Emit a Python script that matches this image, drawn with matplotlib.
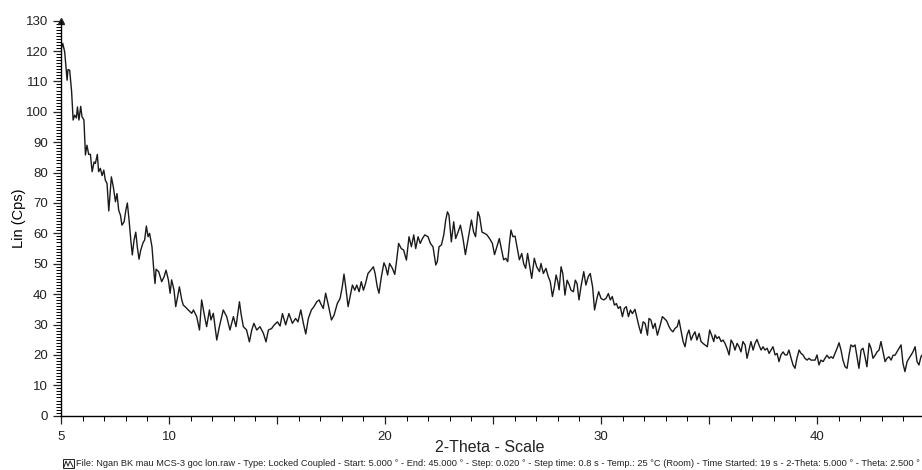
import numpy as np
import matplotlib
matplotlib.use("Agg")
import matplotlib.pyplot as plt
from matplotlib.ticker import MultipleLocator, FixedLocator
from matplotlib.patches import Rectangle

plt.rcParams['font.family'] = ['Liberation Sans', 'DejaVu Sans']

# 2-theta positions (deg) and intensities
two_theta = [
    5.00, 5.08, 5.17, 5.28, 5.32, 5.40, 5.49, 5.56, 5.63, 5.71, 5.76, 5.83, 5.91, 5.97,
    6.06, 6.13, 6.20, 6.28, 6.36, 6.44, 6.53, 6.59, 6.68, 6.74, 6.82, 6.90, 6.98,
    7.05, 7.13, 7.21, 7.33, 7.42, 7.52, 7.59, 7.67, 7.75, 7.82, 7.92,
    8.00, 8.07, 8.15, 8.23, 8.30, 8.38, 8.46, 8.53, 8.61, 8.69, 8.80, 8.87, 8.95,
    9.03, 9.10, 9.21, 9.31, 9.35, 9.40, 9.52, 9.66, 9.77, 9.86, 9.97,
    10.05, 10.12, 10.23, 10.31, 10.40, 10.48, 10.59, 10.66, 10.74, 10.89,
    11.05, 11.13, 11.28, 11.41, 11.51, 11.62, 11.74, 11.87, 11.94,
    12.05, 12.21, 12.33, 12.44, 12.51, 12.67, 12.82, 12.98,
    13.10, 13.26, 13.33, 13.44, 13.59, 13.72, 13.83, 13.93,
    14.06, 14.21, 14.37, 14.49, 14.60, 14.75, 14.86,
    15.02, 15.14, 15.25, 15.40, 15.55, 15.71, 15.86, 15.97,
    16.10, 16.22, 16.33, 16.45, 16.59, 16.71, 16.84, 16.95,
    17.02, 17.14, 17.25, 17.36, 17.52, 17.64, 17.79, 17.92,
    18.02, 18.10, 18.18, 18.29, 18.38, 18.49, 18.60, 18.69, 18.80, 18.90,
    19.00, 19.10, 19.21, 19.34, 19.46, 19.54, 19.64, 19.72, 19.83, 19.95,
    20.03, 20.12, 20.21, 20.34, 20.45, 20.52, 20.63, 20.75, 20.86, 20.99,
    21.11, 21.22, 21.33, 21.42, 21.53, 21.63, 21.73, 21.84, 21.99,
    22.10, 22.22, 22.35, 22.42, 22.50, 22.61, 22.72, 22.81, 22.89, 22.96,
    23.07, 23.18, 23.27, 23.38, 23.49, 23.61, 23.72, 23.84,
    24.00, 24.10, 24.19, 24.30, 24.38, 24.49, 24.61, 24.72, 24.84, 24.97,
    25.07, 25.18, 25.29, 25.40, 25.49, 25.59, 25.68, 25.76, 25.83, 25.92,
    26.02, 26.11, 26.22, 26.33, 26.42, 26.51, 26.60, 26.70, 26.79, 26.91,
    27.02, 27.15, 27.22, 27.33, 27.45, 27.56, 27.65, 27.75, 27.84, 27.92,
    28.00, 28.06, 28.15, 28.23, 28.33, 28.43, 28.53, 28.61, 28.72, 28.81, 28.89, 28.98,
    29.07, 29.20, 29.30, 29.41, 29.50, 29.61, 29.70, 29.81, 29.89,
    30.00, 30.12, 30.23, 30.34, 30.43, 30.52, 30.62, 30.71, 30.80, 30.89, 30.99,
    31.08, 31.17, 31.27, 31.36, 31.45, 31.57, 31.67, 31.76, 31.85, 31.95,
    32.04, 32.15, 32.22, 32.31, 32.41, 32.50, 32.61, 32.72, 32.84, 32.93,
    33.04, 33.15, 33.24, 33.33, 33.42, 33.53, 33.61, 33.70, 33.80, 33.89, 33.98,
    34.07, 34.17, 34.26, 34.35, 34.44, 34.54, 34.63, 34.72, 34.81, 34.92,
    35.03, 35.12, 35.22, 35.28, 35.37, 35.46, 35.56, 35.65, 35.74, 35.83, 35.93,
    36.02, 36.11, 36.20, 36.30, 36.39, 36.48, 36.57, 36.67, 36.76, 36.85, 36.94,
    37.04, 37.13, 37.22, 37.31, 37.41, 37.50, 37.59, 37.69, 37.78, 37.87, 37.96,
    38.06, 38.15, 38.24, 38.33, 38.43, 38.52, 38.61, 38.70, 38.80, 38.89, 38.98,
    39.07, 39.17, 39.26, 39.35, 39.44, 39.54, 39.63, 39.72, 39.81, 39.91,
    40.00, 40.09, 40.18, 40.28, 40.37, 40.46, 40.56, 40.65, 40.74, 40.83, 40.93,
    41.02, 41.11, 41.20, 41.30, 41.39, 41.48, 41.57, 41.67, 41.76, 41.85, 41.94,
    42.04, 42.13, 42.22, 42.31, 42.41, 42.50, 42.59, 42.69, 42.78, 42.87, 42.96,
    43.06, 43.15, 43.24, 43.33, 43.43, 43.52, 43.61, 43.70, 43.80, 43.89, 43.98,
    44.07, 44.17, 44.26, 44.35, 44.44, 44.54, 44.63, 44.72, 44.81, 44.86,
]

lin_cps = [
    120.5, 122.5, 119.7, 110.4, 113.9, 113.7, 106.6, 97.3, 98.9, 98.0, 101.6, 97.3, 101.8, 98.4,
    97.3, 85.8, 89.0, 86.0, 86.0, 80.3, 83.5, 83.0, 86.0, 80.3, 81.4, 79.0, 80.8,
    77.5, 76.4, 67.4, 78.6, 75.3, 70.4, 73.1, 67.6, 66.0, 62.7, 63.8,
    67.6, 70.0, 64.4, 57.8, 52.9, 57.8, 60.4, 55.6, 51.5, 54.5, 57.0, 57.8, 62.4,
    58.9, 60.0, 55.6, 46.5, 43.5, 48.2, 47.4, 44.1, 45.7, 47.9, 44.7,
    40.3, 44.7, 41.4, 35.9, 39.2, 42.4, 38.1, 36.4, 35.9, 34.8,
    33.7, 34.8, 32.6, 28.2, 38.1, 33.7, 29.3, 34.8, 31.5,
    33.7, 24.9, 29.3, 32.6, 34.8, 32.6, 28.2, 32.6,
    29.3, 37.5, 33.7, 29.3, 28.2, 24.3, 28.2, 30.4,
    28.2, 29.3, 27.1, 24.3, 28.2, 28.7, 29.8,
    30.9, 29.5, 33.6, 29.9, 33.6, 30.4, 32.0, 30.9,
    34.8, 30.4, 26.9, 32.0, 34.8, 35.9, 37.5, 38.1,
    36.9, 35.3, 40.3, 36.9, 31.5, 33.1, 36.9, 38.6,
    42.4, 46.6, 42.4, 35.9, 39.1, 43.0, 41.3, 43.0, 40.8, 44.1,
    41.3, 43.6, 46.8, 47.9, 49.0, 46.8, 42.4, 40.3, 45.7, 50.3,
    49.0, 46.3, 50.1, 48.5, 46.5, 50.1, 56.7, 55.0, 54.5, 51.2,
    58.9, 55.6, 59.5, 55.0, 58.9, 56.7, 58.3, 59.5, 58.9,
    56.7, 55.6, 49.6, 50.7, 55.6, 56.2, 59.5, 64.4, 67.1, 66.0,
    57.2, 63.8, 58.3, 60.4, 62.7, 58.3, 53.0, 57.8,
    64.4, 60.5, 58.9, 67.1, 65.5, 60.4, 60.0, 59.5, 58.3, 56.7,
    53.0, 55.6, 58.3, 54.5, 51.3, 51.8, 50.7, 56.7, 61.1, 58.9,
    59.1, 55.6, 51.3, 53.4, 50.0, 48.5, 53.4, 49.0, 45.2, 51.8,
    49.0, 47.4, 50.1, 46.8, 48.5, 45.7, 44.1, 39.2, 42.4, 46.3,
    44.1, 41.4, 49.0, 46.8, 39.7, 44.6, 43.0, 41.3, 40.8, 44.6, 43.5, 38.1,
    42.4, 47.4, 43.0, 45.8, 46.8, 42.4, 34.8, 38.6, 40.8,
    38.6, 38.1, 38.6, 40.2, 38.1, 39.2, 36.4, 36.9, 35.3, 35.9, 32.6,
    35.3, 35.9, 32.6, 34.8, 33.6, 35.0, 32.0, 29.3, 27.1, 30.9,
    30.4, 26.5, 32.0, 31.5, 28.7, 30.4, 26.5, 29.3, 32.6, 32.0,
    31.2, 29.3, 28.2, 27.6, 28.7, 29.3, 31.5, 28.2, 24.4, 22.7, 26.5,
    28.2, 24.9, 26.5, 27.6, 24.9, 27.1, 24.4, 23.8, 23.3, 22.7,
    28.2, 26.5, 24.4, 26.6, 25.4, 26.0, 24.4, 24.9, 23.8, 22.2, 20.0,
    24.9, 23.8, 21.6, 23.8, 22.7, 21.0, 24.4, 23.3, 18.9, 21.6, 24.4,
    21.6, 23.8, 25.1, 23.3, 21.6, 22.7, 21.6, 22.2, 20.5, 21.6, 22.7,
    20.0, 20.5, 17.8, 20.0, 21.0, 20.0, 20.0, 21.6, 18.9, 16.7, 15.6,
    18.9, 21.6, 20.5, 20.0, 18.9, 18.3, 18.9, 18.3, 18.3, 18.3,
    20.0, 16.7, 18.3, 17.8, 18.9, 19.9, 18.9, 19.4, 18.9, 20.5, 22.2,
    24.0, 21.6, 18.3, 16.1, 15.6, 19.9, 23.3, 22.7, 23.3, 19.4, 15.6,
    21.6, 22.2, 19.4, 16.1, 23.8, 22.2, 18.9, 19.9, 21.0, 21.6, 24.4,
    21.0, 17.8, 18.9, 19.4, 18.3, 19.9, 19.9, 21.0, 22.2, 23.3, 17.2,
    14.5, 17.8, 18.9, 19.9, 21.0, 22.7, 17.8, 16.7, 19.4, 19.9,
]

x_major = [5, 10, 15, 20, 25, 30, 35, 40, 45]
x_labels = ['5', '10', '', '20', '', '30', '', '40', '']

footer = ("File: Ngan BK mau MCS-3 goc lon.raw - Type: Locked Coupled - Start: 5.000 \u00b0 - "
          "End: 45.000 \u00b0 - Step: 0.020 \u00b0 - Step time: 0.8 s - Temp.: 25 \u00b0C (Room) - "
          "Time Started: 19 s - 2-Theta: 5.000 \u00b0 - Theta: 2.500 \u00b0")


def main():
    fig = plt.figure(figsize=(9.22, 4.70), dpi=100)
    ax = fig.add_axes([0.0662, 0.1155, 0.9338, 0.8406])

    ax.plot(two_theta, lin_cps, color='#1a1a1a', lw=1.0)

    ax.set_xlim(5, 44.86)
    ax.set_ylim(0, 130)

    ax.spines['top'].set_visible(False)
    ax.spines['right'].set_visible(False)
    ax.spines['left'].set_linewidth(1.0)
    ax.spines['bottom'].set_linewidth(1.0)

    ax.xaxis.set_major_locator(FixedLocator(x_major))
    ax.set_xticklabels(x_labels)
    ax.xaxis.set_minor_locator(MultipleLocator(1))
    ax.yaxis.set_major_locator(MultipleLocator(10))
    ax.yaxis.set_minor_locator(MultipleLocator(1))
    ax.tick_params(axis='both', which='major', direction='out', length=6, width=0.9,
                   labelsize=9.5, colors='#222222')
    ax.tick_params(axis='both', which='minor', direction='out', length=3.5, width=0.7)
    ax.tick_params(axis='x', which='major', pad=5)

    # small arrow head on top of the y axis
    ax.plot([5], [130], marker='^', color='#222222', markersize=4, clip_on=False)

    ax.set_ylabel('Lin (Cps)', fontsize=10.5, labelpad=0)
    fig.text(490 / 922, 1 - 447 / 470, '2-Theta - Scale', fontsize=11.5,
             ha='center', va='center', color='#222222')

    # footer with small scan icon
    fig.patches.append(Rectangle((63 / 922, 2 / 470), 11 / 922, 9 / 470, transform=fig.transFigure,
                                 fill=False, lw=0.7, edgecolor='#222222'))
    fig.lines.append(plt.Line2D([64 / 922, 66 / 922, 68 / 922, 70 / 922, 73 / 922],
                                [3 / 470, 9 / 470, 4 / 470, 9 / 470, 3 / 470],
                                transform=fig.transFigure, lw=0.7, color='#222222'))
    fig.text(76 / 922, 7 / 470, footer, fontsize=6.7, va='center', ha='left', color='#222222')

    fig.savefig('out.png', dpi=100)


if __name__ == '__main__':
    main()
